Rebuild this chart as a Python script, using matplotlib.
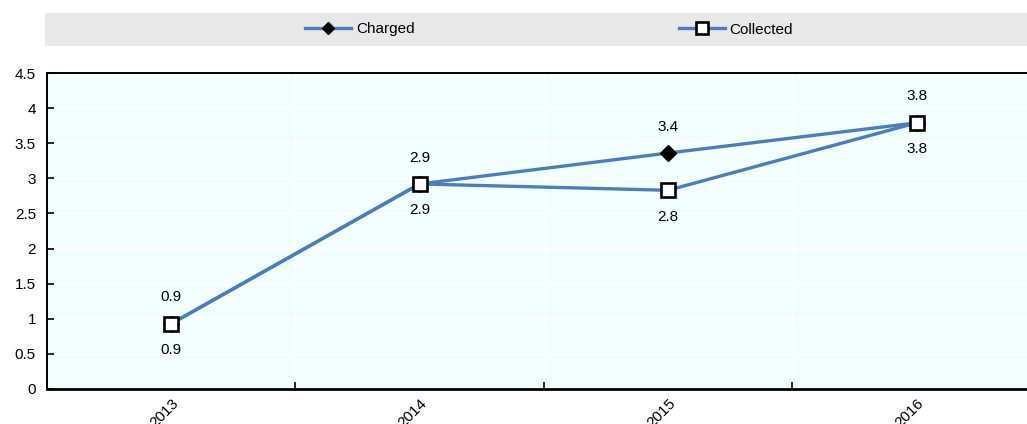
import matplotlib.pyplot as plt
from matplotlib.patches import Rectangle

plt.rcParams['font.family'] = ['Liberation Sans', 'DejaVu Sans']

years = ['2013', '2014', '2015', '2016']
charged = [0.93, 2.92, 3.36, 3.79]
collected = [0.93, 2.92, 2.83, 3.79]

line_color = '#4A7EBB'
W, H = 1027, 424
fs = 11

fig = plt.figure(figsize=(W / 100, H / 100), dpi=100)

# axes: left edge at 47px, top 73px, bottom 389px, running off the right side
ax = fig.add_axes([47 / W, 1 - 389 / H, (W - 47) / W, (389 - 73) / H])
ax.set_facecolor('#F2FEFE')

x = list(range(len(years)))
ax.plot(x, charged, color=line_color, lw=2.4, marker='D', ms=8,
        mfc='black', mec='black', zorder=3, label='Charged')
ax.plot(x, collected, color=line_color, lw=2.4, marker='s', ms=10,
        mfc='white', mec='black', mew=1.9, zorder=4, label='Collected')

for xi, c, k in zip(x, charged, collected):
    ax.annotate(f'{c:.1f}', (xi, c), xytext=(0, 14), textcoords='offset points',
                ha='center', va='bottom', fontsize=fs)
    ax.annotate(f'{k:.1f}', (xi, k), xytext=(0, -14), textcoords='offset points',
                ha='center', va='top', fontsize=fs)

ax.set_ylim(0, 4.5)
ax.set_xlim(-0.5, (W - 171) / 248.5)
ax.set_yticks([0, 0.5, 1, 1.5, 2, 2.5, 3, 3.5, 4, 4.5])
ax.set_yticklabels(['0', '0.5', '1', '1.5', '2', '2.5', '3', '3.5', '4', '4.5'])
ax.set_xticks(x)
ax.set_xticklabels(years, rotation=45, ha='right', rotation_mode='anchor')
ax.set_xticks([0.5, 1.5, 2.5], minor=True)

ax.tick_params(axis='y', direction='in', length=5, width=1.2, labelsize=fs, pad=8)
ax.tick_params(axis='x', which='major', length=0, labelsize=fs, pad=5)
ax.tick_params(axis='x', which='minor', direction='in', length=5, width=1.2)

ax.grid(True, axis='y', color='white', lw=1)
ax.grid(True, axis='x', which='minor', color='white', lw=1)
ax.set_axisbelow(True)

for s in ['left', 'bottom', 'top']:
    ax.spines[s].set_color('black')
ax.spines['left'].set_linewidth(1.4)
ax.spines['bottom'].set_linewidth(2)
ax.spines['top'].set_linewidth(1.4)
ax.spines['right'].set_visible(False)

# legend strip
fig.patches.append(Rectangle((45 / W, 1 - 46 / H), (W - 45) / W, 33 / H,
                             transform=fig.transFigure, facecolor='#E8E8E8',
                             edgecolor='none', zorder=0))
handles, labels = ax.get_legend_handles_labels()
fig.legend(handles, labels, loc='center', ncol=2, frameon=False,
           bbox_to_anchor=(549 / W, 1 - 29.5 / H), fontsize=fs,
           handlelength=3.0, handletextpad=0.3, columnspacing=17.3,
           markerscale=0.8)

fig.savefig('out.png', dpi=100)
